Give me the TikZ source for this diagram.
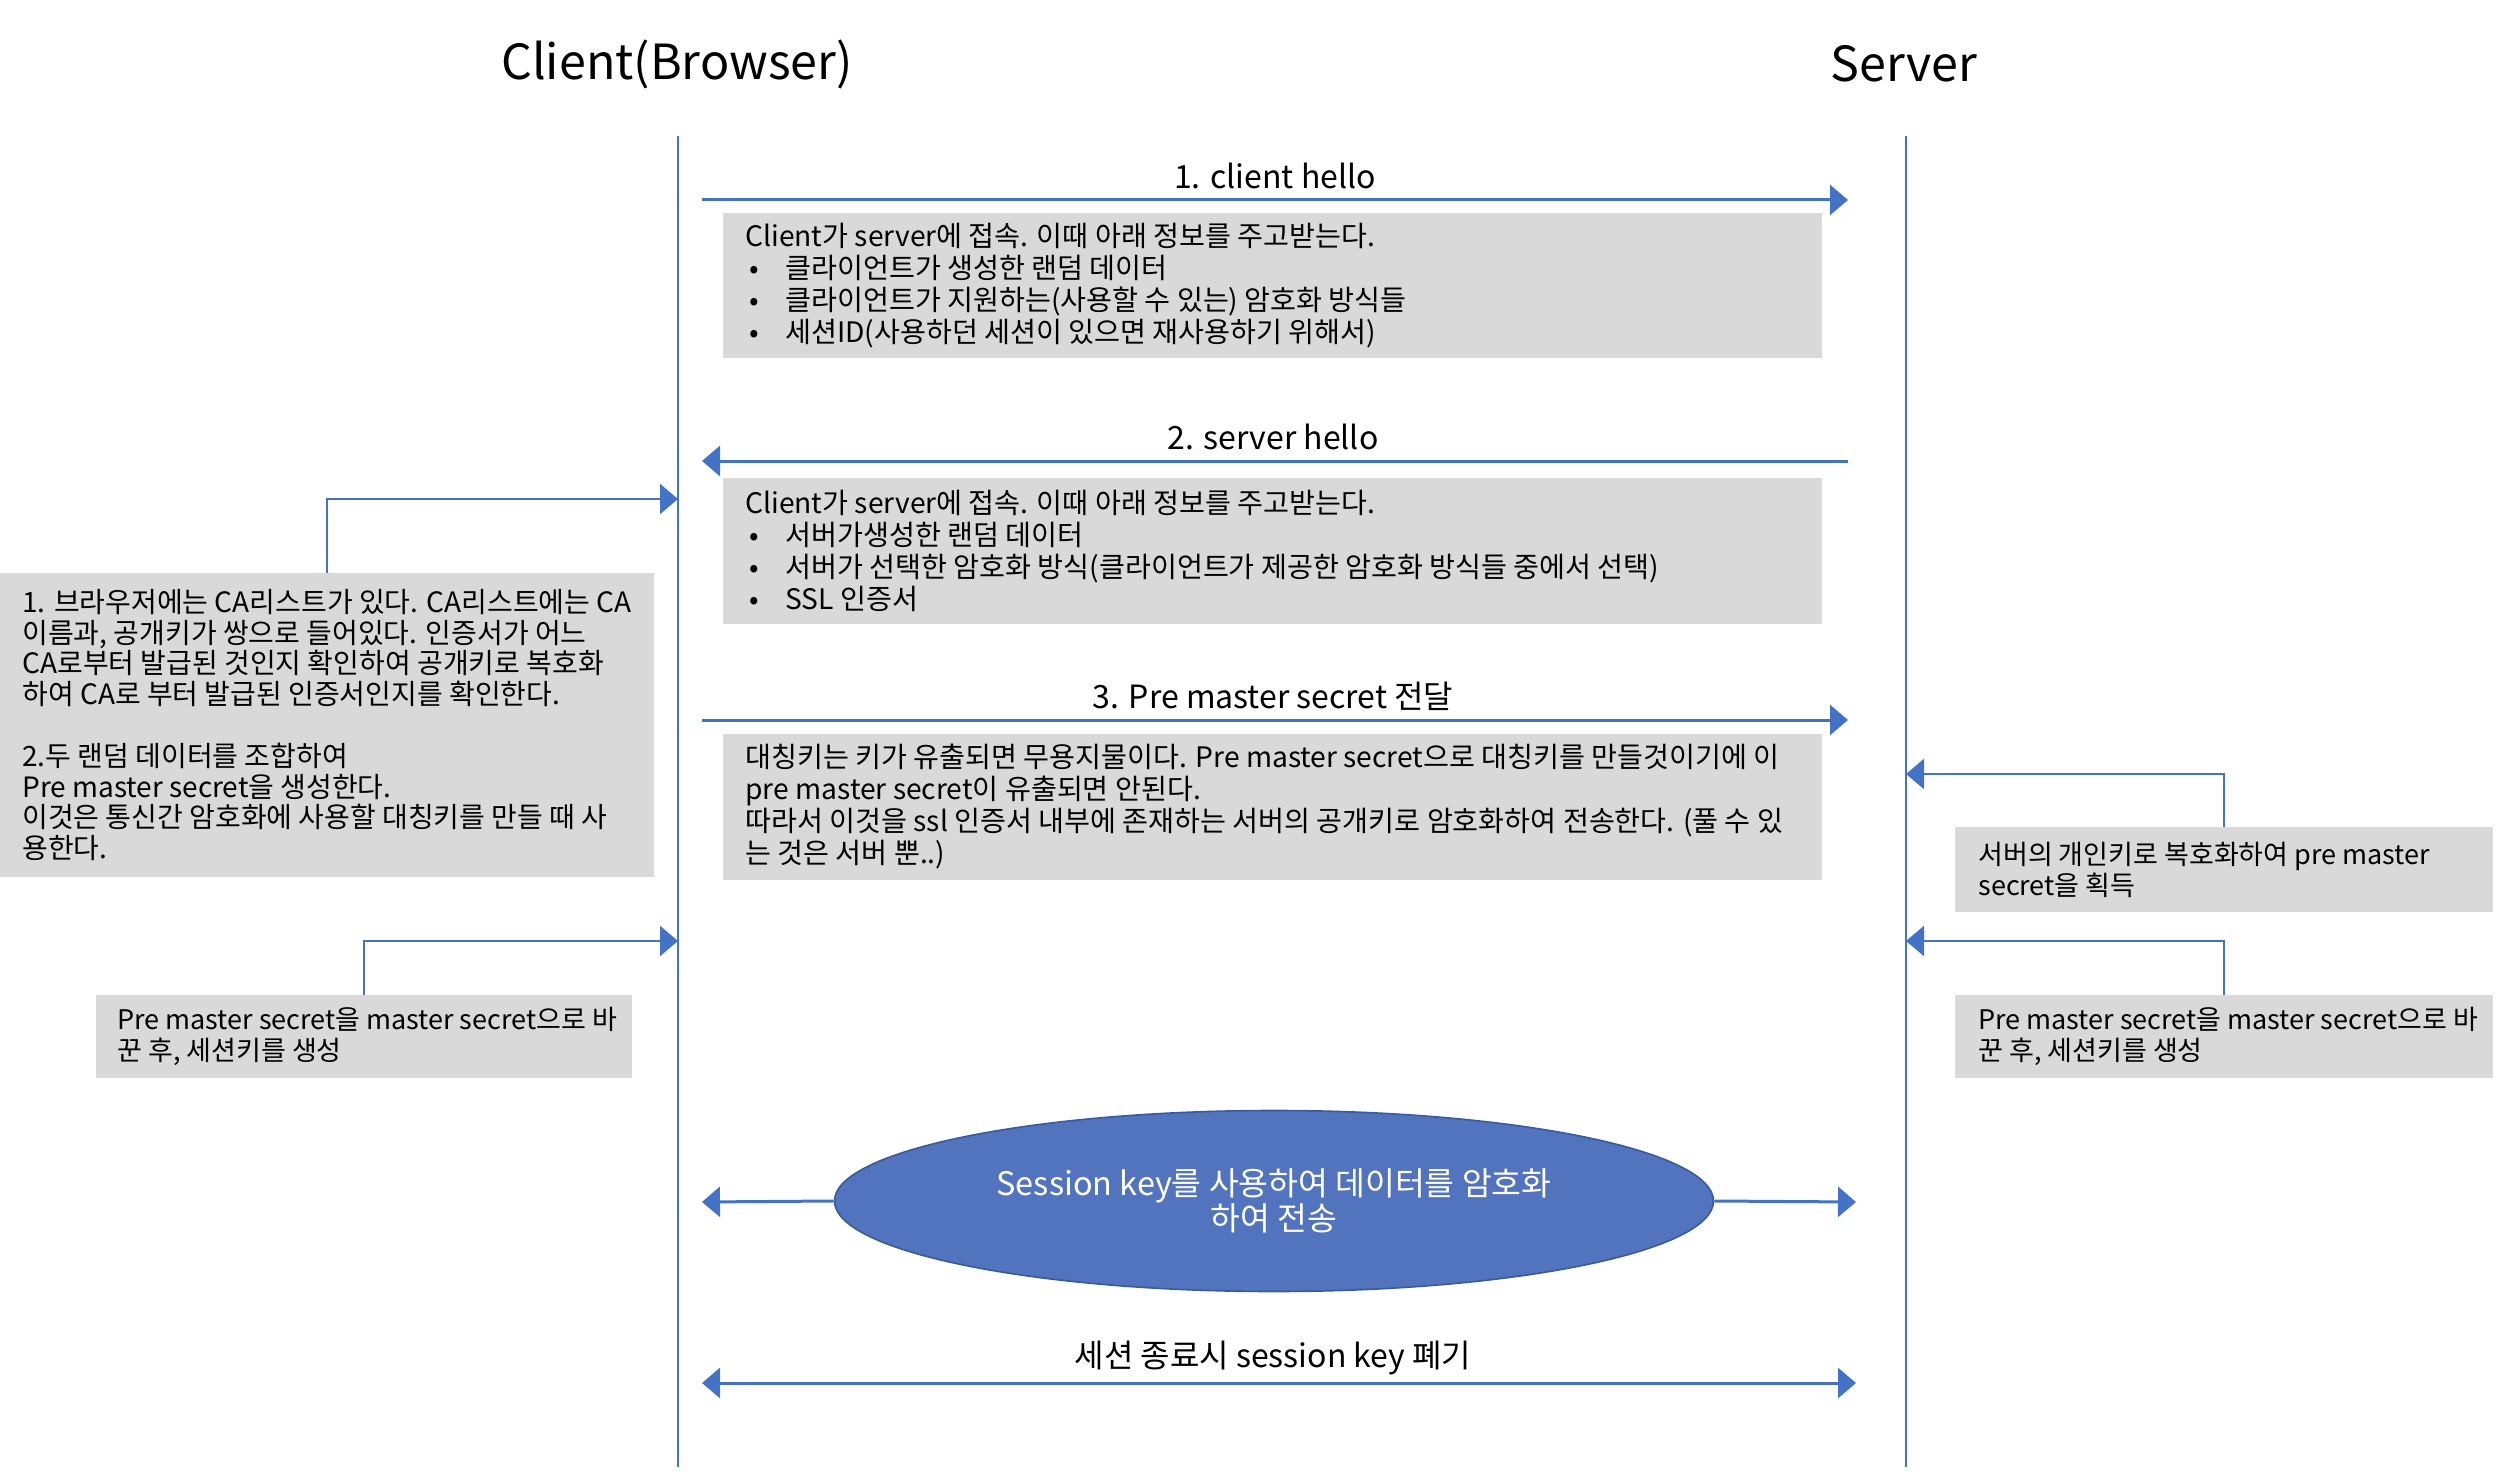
\documentclass[tikz,border=0pt]{standalone}
\usepackage{fontspec}
\setmainfont{Noto Sans CJK KR}
\usetikzlibrary{arrows.meta,shapes.geometric}
\definecolor{lineblue}{HTML}{4472C4}
\definecolor{ellblue}{HTML}{5273BD}
\definecolor{ellborder}{HTML}{3A5A9E}
\definecolor{boxgray}{HTML}{D9D9D9}
\newcommand\bulitem{\hspace*{2pt}\makebox[18pt][l]{•}}
\begin{document}
\begin{tikzpicture}[x=0.5pt,y=-0.5pt,
  title/.style={font=\fontsize{24.2}{29}\selectfont, inner sep=0pt},
  lifeline/.style={draw=lineblue, line width=1pt},
  tip/.tip={Triangle[width=15pt,length=9pt]},
  msg/.style={draw=lineblue, line width=1.5pt, -tip},
  msgboth/.style={draw=lineblue, line width=1.5pt, tip-tip},
  notearrow/.style={draw=lineblue, line width=1.2pt, -tip},
  msglabel/.style={font=\fontsize{16}{19}\selectfont, inner sep=0pt},
  graybox/.style={fill=boxgray, inner sep=0pt, outer sep=0pt, anchor=north west},
  boxtext/.style={font=\fontsize{14.1}{16}\selectfont, align=left, inner sep=0pt, anchor=west},
  boxtextL/.style={font=\fontsize{14}{15.4}\selectfont, align=left, inner sep=0pt, anchor=west},
  boxtextS/.style={font=\fontsize{13.5}{15.5}\selectfont, align=left, inner sep=0pt, anchor=west},
]
\useasboundingbox (0,0) rectangle (2496,1482);

% titles and lifelines
\node[title] (ctitle) at (677,64) {Client(Browser)};
\node[title] (stitle) at (1904,64) {Server};
\coordinate (ctop) at (678,136);
\coordinate (cbot) at (678,1467);
\coordinate (stop) at (1906,136);
\coordinate (sbot) at (1906,1467);
\draw[lifeline] (ctop) -- (cbot);
\draw[lifeline] (stop) -- (sbot);

% message 1
\coordinate (m1a) at (702,200);
\coordinate (m1b) at (1848,200);
\draw[msg] (m1a) -- (m1b);
\node[msglabel] (lab1) at (1275,176) {1. client hello};
\node[graybox, minimum width=549.5pt, minimum height=72.5pt] (B1) at (723,213) {};
\node[boxtext] (T1) at ([xshift=11pt]B1.west) {Client가 server에 접속. 이때 아래 정보를 주고받는다.\\
\bulitem 클라이언트가 생성한 랜덤 데이터\\
\bulitem 클라이언트가 지원하는(사용할 수 있는) 암호화 방식들\\
\bulitem 세션ID(사용하던 세션이 있으면 재사용하기 위해서)};

% message 2
\coordinate (m2a) at (1848,461);
\coordinate (m2b) at (702,461);
\draw[msg] (m2a) -- (m2b);
\node[msglabel] (lab2) at (1273,437) {2. server hello};
\node[graybox, minimum width=549.5pt, minimum height=73pt] (B2) at (723,478) {};
\node[boxtext] (T2) at ([xshift=11pt]B2.west) {Client가 server에 접속. 이때 아래 정보를 주고받는다.\\
\bulitem 서버가생성한 랜덤 데이터\\
\bulitem 서버가 선택한 암호화 방식(클라이언트가 제공한 암호화 방식들 중에서 선택)\\
\bulitem SSL 인증서};

% message 3
\coordinate (m3a) at (702,720);
\coordinate (m3b) at (1848,720);
\draw[msg] (m3a) -- (m3b);
\node[msglabel] (lab3) at (1273,696) {3. Pre master secret 전달};
\node[graybox, minimum width=549.5pt, minimum height=73pt] (B3) at (723,734) {};
\node[boxtext] (T3) at ([xshift=11pt]B3.west) {대칭키는 키가 유출되면 무용지물이다. Pre master secret으로 대칭키를 만들것이기에 이\\
pre master secret이 유출되면 안된다.\\
따라서 이것을 ssl 인증서 내부에 존재하는 서버의 공개키로 암호화하여 전송한다. (풀 수 있\\
는 것은 서버 뿐..)};

% left notes
\node[graybox, minimum width=327pt, minimum height=152pt] (L1) at (0,573) {};
\node[boxtextL] (TL1) at ([xshift=11pt]L1.west) {1. 브라우저에는 CA리스트가 있다. CA리스트에는 CA\\
이름과, 공개키가 쌍으로 들어있다. 인증서가 어느\\
CA로부터 발급된 것인지 확인하여 공개키로 복호화\\
하여 CA로 부터 발급된 인증서인지를 확인한다.\\[15.4pt]
2.두 랜덤 데이터를 조합하여\\
Pre master secret을 생성한다.\\
이것은 통신간 암호화에 사용할 대칭키를 만들 때 사\\
용한다.};
\coordinate (cl1) at (678,499);
\draw[notearrow] (L1.north) |- (cl1);

\node[graybox, minimum width=268pt, minimum height=41.5pt] (L2) at (96,995) {};
\node[boxtextS] (TL2) at ([xshift=10.5pt]L2.west) {Pre master secret을 master secret으로 바\\
꾼 후, 세션키를 생성};
\coordinate (cl2) at (678,941);
\draw[notearrow] (L2.north) |- (cl2);

% right notes
\node[graybox, minimum width=269pt, minimum height=42.5pt] (R1) at (1955,827) {};
\node[boxtextS] (TR1) at ([xshift=11.5pt]R1.west) {서버의 개인키로 복호화하여 pre master\\
secret을 획득};
\coordinate (sr1) at (1906,774);
\draw[notearrow] (R1.north) |- (sr1);

\node[graybox, minimum width=269pt, minimum height=41.5pt] (R2) at (1955,995) {};
\node[boxtextS] (TR2) at ([xshift=11.5pt]R2.west) {Pre master secret을 master secret으로 바\\
꾼 후, 세션키를 생성};
\coordinate (sr2) at (1906,941);
\draw[notearrow] (R2.north) |- (sr2);

% session key ellipse
\node[ellipse, fill=ellblue, draw=ellborder, line width=0.8pt, minimum width=439.5pt, minimum height=90.5pt, inner sep=0pt, text=white, align=center, font=\fontsize{16.2}{17.5}\selectfont] (E) at (1274,1201) {Session key를 사용하여 데이터를 암호화\\하여 전송};
\coordinate (eleft) at (702,1202);
\coordinate (eright) at (1856,1202);
\draw[msg] (E.west) -- (eleft);
\draw[msg] (E.east) -- (eright);

% session end
\coordinate (fleft) at (702,1383);
\coordinate (fright) at (1856,1383);
\draw[msgboth] (fleft) -- (fright);
\node[msglabel] (lab4) at (1273,1358) {세션 종료시 session key 폐기};
\end{tikzpicture}
\end{document}
